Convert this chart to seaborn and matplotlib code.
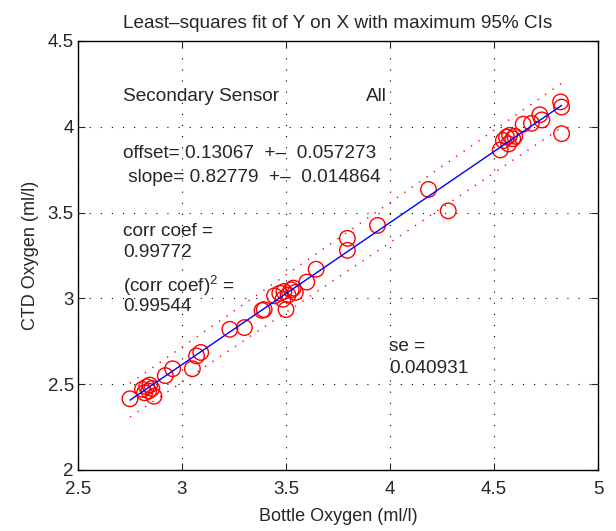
import numpy as np
import pandas as pd
import matplotlib
matplotlib.use("Agg")
import matplotlib.pyplot as plt
import seaborn as sns

# Data
bottle_x = [2.75, 2.81, 2.82, 2.83, 2.845, 2.855, 2.865, 2.84, 2.92, 2.955,
            3.05, 3.07, 3.09, 3.23, 3.30, 3.385, 3.395, 3.445, 3.47, 3.49,
            3.51, 3.525, 3.545, 3.485, 3.50, 3.535, 3.60, 3.645, 3.795, 3.795,
            3.94, 4.185, 4.28, 4.53, 4.545, 4.56, 4.575, 4.59, 4.57, 4.60,
            4.64, 4.68, 4.72, 4.73, 4.82, 4.825, 4.825]
ctd_y = [2.415, 2.47, 2.45, 2.485, 2.495, 2.475, 2.43, 2.46, 2.55, 2.59,
         2.59, 2.665, 2.685, 2.82, 2.83, 2.93, 2.935, 3.015, 3.03, 3.04,
         3.02, 3.05, 3.035, 2.995, 2.935, 3.06, 3.095, 3.17, 3.35, 3.28,
         3.425, 3.635, 3.51, 3.865, 3.92, 3.94, 3.95, 3.93, 3.90, 3.945,
         4.015, 4.02, 4.07, 4.04, 4.145, 4.115, 3.96]
offset, offset_ci = 0.13067, 0.057273
slope, slope_ci = 0.82779, 0.014864
corr = 0.99772
corr2 = 0.99544
se = 0.040931
x_ticks = [2.5, 3, 3.5, 4, 4.5, 5]
y_ticks = [2, 2.5, 3, 3.5, 4, 4.5]

sns.set_style("white")
plt.rcParams['font.family'] = ['Liberation Sans', 'DejaVu Sans']
plt.rcParams['mathtext.default'] = 'regular'

fig = plt.figure(figsize=(6.16, 5.31), dpi=100)
ax = fig.add_axes([0.1266, 0.1149, 0.9708 - 0.1266, 0.9228 - 0.1149])

df = pd.DataFrame({"x": bottle_x, "y": ctd_y})
xs = np.array([min(bottle_x), max(bottle_x)])
lines = pd.DataFrame({
    "x": xs,
    "fit": offset + slope * xs,
    "upper": (offset + offset_ci) + (slope + slope_ci) * xs,
    "lower": (offset - offset_ci) + (slope - slope_ci) * xs,
})

sns.lineplot(data=lines, x="x", y="upper", ax=ax, color="red", lw=1.0,
             linestyle=(0, (1, 5.5)))
sns.lineplot(data=lines, x="x", y="lower", ax=ax, color="red", lw=1.0,
             linestyle=(0, (1, 5.5)))
sns.scatterplot(data=df, x="x", y="y", ax=ax, marker="o", s=125,
                facecolors="none", edgecolor="red", linewidth=1.0, zorder=3)
sns.lineplot(data=lines, x="x", y="fit", ax=ax, color="blue", lw=1.0, zorder=4)

ax.set_xlim(2.5, 5)
ax.set_ylim(2, 4.5)
ax.set_xticks(x_ticks)
ax.set_yticks(y_ticks)
ax.set_xticklabels(["2.5", "3", "3.5", "4", "4.5", "5"])
ax.set_yticklabels(["2", "2.5", "3", "3.5", "4", "4.5"])
ax.tick_params(direction="in", length=5, width=0.8, labelsize=13.5,
               top=True, right=True, bottom=True, left=True)
ax.tick_params(axis="x", pad=8)
ax.tick_params(axis="y", pad=3)
ax.grid(True, color="black", linestyle=(0, (1, 9)), linewidth=0.8)
for s in ax.spines.values():
    s.set_color("black")
    s.set_linewidth(1.0)

ax.set_xlabel("Bottle Oxygen (ml/l)", fontsize=13, labelpad=7)
ax.set_ylabel("CTD Oxygen (ml/l)", fontsize=13, labelpad=6)
ax.set_title("Least\u2013squares fit of Y on X with maximum 95% CIs",
             fontsize=13.7, pad=9)

fs = 13.7
ax.text(2.716, 4.174, "Secondary Sensor", fontsize=fs, va="center")
ax.text(3.885, 4.174, "All", fontsize=fs, va="center")
ax.text(2.716, 3.847, f"offset= {offset:.5f}  +\u2013  {offset_ci:.6f}",
        fontsize=fs, va="center")
ax.text(2.716, 3.707, f" slope= {slope:.5f}  +\u2013  {slope_ci:.6f}",
        fontsize=fs, va="center")
ax.text(2.716, 3.387, "corr coef =", fontsize=fs, va="center")
ax.text(2.716, 3.265, f"{corr:.5f}", fontsize=fs, va="center")
ax.text(2.716, 3.075, "(corr coef)$^2$ =", fontsize=fs, va="center")
ax.text(2.716, 2.950, f"{corr2:.5f}", fontsize=fs, va="center")
ax.text(3.995, 2.717, "se =", fontsize=fs, va="center")
ax.text(3.995, 2.590, f"{se:.6f}", fontsize=fs, va="center")

fig.savefig("out.png", dpi=100)
